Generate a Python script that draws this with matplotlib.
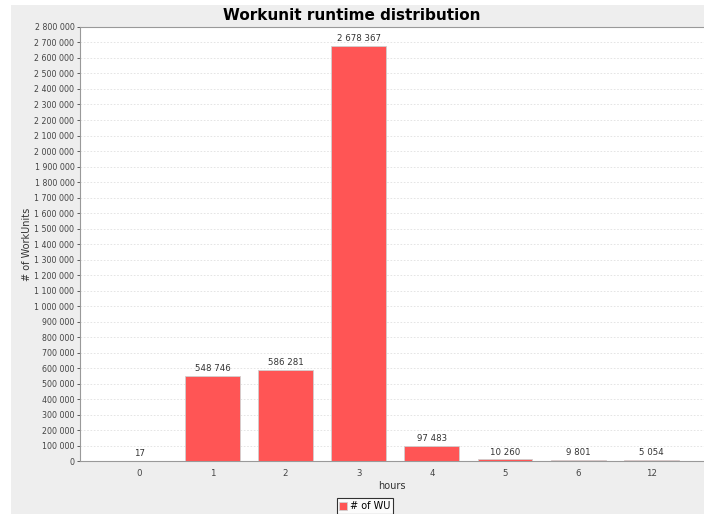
import matplotlib
matplotlib.use('Agg')
import matplotlib.pyplot as plt
from matplotlib.patches import Rectangle
from matplotlib.ticker import FuncFormatter, MultipleLocator

hours = ['0', '1', '2', '3', '4', '5', '6', '12']
counts = [17, 548746, 586281, 2678367, 97483, 10260, 9801, 5054]

BAR = '#ff5555'


def spaced(v):
    return f'{int(v):,}'.replace(',', ' ')


fig = plt.figure(figsize=(7.04, 5.14), dpi=100, facecolor='white')
# grey chart background, leaving a thin white strip at top and left
fig.add_artist(Rectangle((11 / 704, 0), 1, 1 - 5 / 514, transform=fig.transFigure,
                         facecolor='#eeeeee', edgecolor='none', zorder=-10))
ax = fig.add_axes([0.1136, 0.103, 0.8864, 0.8445])
ax.set_facecolor('white')

x = list(range(len(hours)))
ax.bar(x, counts, width=0.75, color=BAR, edgecolor='#d0d0d0', linewidth=0.6, label='# of WU', zorder=3)
for xi, v in zip(x, counts):
    ax.annotate(spaced(v), (xi, v), xytext=(0, 2), textcoords='offset points',
                ha='center', va='bottom', fontsize=6.2, color='#333333')

ax.set_xlim(-0.81, 7.72)
ax.set_ylim(0, 2800000)
ax.set_xticks(x)
ax.set_xticklabels(hours)
ax.yaxis.set_major_locator(MultipleLocator(100000))
ax.yaxis.set_major_formatter(FuncFormatter(lambda v, p: spaced(v)))
ax.tick_params(axis='both', colors='#444444', length=2, width=0.6)
ax.tick_params(axis='y', labelsize=5.7, pad=2)
ax.tick_params(axis='x', labelsize=6.2, length=0, pad=6)
ax.grid(axis='y', color='#e0e0e0', linestyle=(0, (2, 2)), linewidth=0.6, zorder=0)

ax.spines['right'].set_visible(False)
for side in ['left', 'bottom', 'top']:
    ax.spines[side].set_color('#999999')
    ax.spines[side].set_linewidth(0.8)

ax.set_xlabel('hours', fontsize=7, color='#333333', labelpad=2)
ax.set_ylabel('# of WorkUnits', fontsize=7, color='#333333', labelpad=2)
fig.suptitle('Workunit runtime distribution', fontsize=11, fontweight='bold', y=0.985)

leg = fig.legend(loc='lower center', bbox_to_anchor=(0.5185, -0.01), fontsize=7, frameon=True,
                 fancybox=False, edgecolor='black', handlelength=0.8, handleheight=0.8,
                 handletextpad=0.3, borderpad=0.3)
leg.get_frame().set_linewidth(0.8)

fig.savefig('out.png', dpi=100, facecolor=fig.get_facecolor())
